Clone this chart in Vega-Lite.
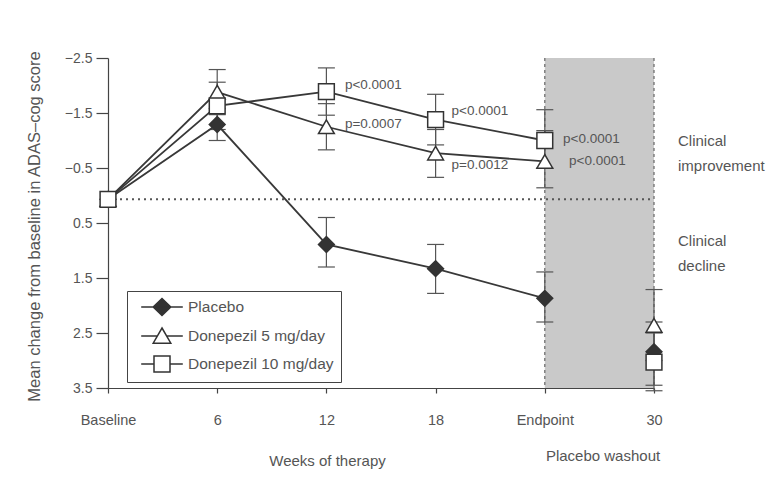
{
  "$schema": "https://vega.github.io/schema/vega-lite/v6.json",
  "width": 546,
  "height": 330,
  "autosize": {"type": "none"},
  "padding": {"left": 108, "top": 58, "right": 122, "bottom": 99},
  "background": "white",
  "config": {
    "view": {"stroke": null},
    "font": "Liberation Sans",
    "axis": {
      "domainColor": "#444",
      "domainWidth": 1.2,
      "tickColor": "#444",
      "tickWidth": 1.2,
      "labelColor": "#555",
      "titleColor": "#555",
      "titleFontWeight": "normal",
      "grid": false
    }
  },
  "datasets": {
    "means": [
      {"group": "Placebo", "week": 0, "mean": 0.07, "lo": null, "hi": null},
      {"group": "Placebo", "week": 6, "mean": -1.29, "lo": -1.58, "hi": -1.0},
      {"group": "Placebo", "week": 12, "mean": 0.89, "lo": 0.4, "hi": 1.3},
      {"group": "Placebo", "week": 18, "mean": 1.33, "lo": 0.89, "hi": 1.78},
      {"group": "Placebo", "week": 24, "mean": 1.87, "lo": 1.39, "hi": 2.3},
      {"group": "Placebo", "week": 30, "mean": 2.84, "lo": 2.3, "hi": 3.45},
      {"group": "Donepezil 5 mg/day", "week": 0, "mean": 0.07, "lo": null, "hi": null},
      {"group": "Donepezil 5 mg/day", "week": 6, "mean": -1.88, "lo": -2.29, "hi": -1.47},
      {"group": "Donepezil 5 mg/day", "week": 12, "mean": -1.25, "lo": -1.67, "hi": -0.83},
      {"group": "Donepezil 5 mg/day", "week": 18, "mean": -0.77, "lo": -1.2, "hi": -0.33},
      {"group": "Donepezil 5 mg/day", "week": 24, "mean": -0.62, "lo": -1.18, "hi": -0.14},
      {"group": "Donepezil 5 mg/day", "week": 30, "mean": 2.36, "lo": 1.71, "hi": 3.0},
      {"group": "Donepezil 10 mg/day", "week": 0, "mean": 0.07, "lo": null, "hi": null},
      {"group": "Donepezil 10 mg/day", "week": 6, "mean": -1.63, "lo": -2.06, "hi": -1.2},
      {"group": "Donepezil 10 mg/day", "week": 12, "mean": -1.89, "lo": -2.32, "hi": -1.46},
      {"group": "Donepezil 10 mg/day", "week": 18, "mean": -1.38, "lo": -1.84, "hi": -0.92},
      {"group": "Donepezil 10 mg/day", "week": 24, "mean": -1.0, "lo": -1.56, "hi": -0.5},
      {"group": "Donepezil 10 mg/day", "week": 30, "mean": 3.03, "lo": 2.5, "hi": 3.55}
    ],
    "pvals": [
      {"lx": 13.02, "ly": -2.005, "label": "p<0.0001"},
      {"lx": 13.02, "ly": -1.305, "label": "p=0.0007"},
      {"lx": 18.88, "ly": -1.544, "label": "p<0.0001"},
      {"lx": 18.88, "ly": -0.551, "label": "p=0.0012"},
      {"lx": 25.0, "ly": -1.023, "label": "p<0.0001"},
      {"lx": 25.33, "ly": -0.623, "label": "p<0.0001"}
    ],
    "notes": [
      {"nx": 31.32, "ny": -0.982, "note": "Clinical\nimprovement"},
      {"nx": 31.32, "ny": 0.831, "note": "Clinical\ndecline"}
    ],
    "washout": [
      {"nx": 27.2, "ny": 4.73, "note": "Placebo washout"}
    ]
  },
  "layer": [
    {
      "data": {"values": [{}]},
      "mark": {"type": "rect", "fill": "#c9c9c9", "stroke": null},
      "encoding": {
        "x": {"datum": 24, "type": "quantitative"},
        "x2": {"datum": 30},
        "y": {"datum": -2.5, "type": "quantitative"},
        "y2": {"datum": 3.5}
      }
    },
    {
      "data": {"values": [{}]},
      "mark": {"type": "rule", "stroke": "#666", "strokeWidth": 1.2, "strokeDash": [3, 3]},
      "encoding": {
        "x": {"datum": 24, "type": "quantitative"},
        "y": {"datum": -2.5, "type": "quantitative"},
        "y2": {"datum": 3.5}
      }
    },
    {
      "data": {"values": [{}]},
      "mark": {"type": "rule", "stroke": "#666", "strokeWidth": 1.2, "strokeDash": [3, 3]},
      "encoding": {
        "x": {"datum": 30, "type": "quantitative"},
        "y": {"datum": -2.5, "type": "quantitative"},
        "y2": {"datum": 3.5}
      }
    },
    {
      "data": {"values": [{}]},
      "mark": {"type": "rule", "stroke": "#555", "strokeWidth": 2, "strokeDash": [2, 4]},
      "encoding": {
        "x": {"datum": 0, "type": "quantitative"},
        "x2": {"datum": 30},
        "y": {"datum": 0.07, "type": "quantitative"}
      }
    },
    {
      "data": {"name": "means"},
      "transform": [{"filter": "isValid(datum.lo)"}],
      "mark": {"type": "rule", "stroke": "#555", "strokeWidth": 1.2},
      "encoding": {
        "x": {"field": "week", "type": "quantitative"},
        "y": {"field": "lo", "type": "quantitative"},
        "y2": {"field": "hi"}
      }
    },
    {
      "data": {"name": "means"},
      "transform": [
        {"filter": "isValid(datum.lo)"},
        {"fold": ["lo", "hi"], "as": ["end", "val"]}
      ],
      "mark": {"type": "tick", "orient": "horizontal", "size": 17, "thickness": 1.2, "color": "#555", "opacity": 1},
      "encoding": {
        "x": {"field": "week", "type": "quantitative"},
        "y": {"field": "val", "type": "quantitative"}
      }
    },
    {
      "data": {"name": "means"},
      "transform": [{"filter": "datum.week <= 24"}],
      "mark": {"type": "line", "stroke": "#383838", "strokeWidth": 1.8},
      "encoding": {
        "x": {"field": "week", "type": "quantitative"},
        "y": {"field": "mean", "type": "quantitative"},
        "detail": {"field": "group", "type": "nominal"}
      }
    },
    {
      "data": {"name": "means"},
      "mark": {"type": "point", "filled": true, "opacity": 1, "stroke": "#333", "strokeWidth": 1.5, "size": 250},
      "encoding": {
        "x": {
          "field": "week",
          "type": "quantitative",
          "scale": {"domain": [0, 30], "nice": false, "zero": false},
          "axis": {
            "values": [0, 6, 12, 18, 24, 30],
            "labelExpr": "datum.value == 0 ? 'Baseline' : datum.value == 24 ? 'Endpoint' : datum.label",
            "tickSize": 5,
            "labelPadding": 20,
            "labelFontSize": 14.5,
            "labelFlush": false,
            "title": "Weeks of therapy",
            "titleFontSize": 15,
            "titleX": 219,
            "titleY": 65,
            "titleBaseline": "top",
            "titleAlign": "center"
          }
        },
        "y": {
          "field": "mean",
          "type": "quantitative",
          "scale": {"domain": [-2.5, 3.5], "reverse": true, "nice": false, "zero": false},
          "axis": {
            "values": [-2.5, -1.5, -0.5, 0.5, 1.5, 2.5, 3.5],
            "format": ".1f",
            "tickSize": 12,
            "labelPadding": 4,
            "labelFontSize": 14,
            "title": "Mean change from baseline in ADAS–cog score",
            "titleFontSize": 16.5,
            "titleX": -74,
            "titleY": 168,
            "titleAngle": -90,
            "titleBaseline": "middle",
            "titleAlign": "center"
          }
        },
        "shape": {
          "condition": [
            {"test": "datum.group === 'Placebo'", "value": "diamond"},
            {"test": "datum.group === 'Donepezil 5 mg/day'", "value": "triangle-up"}
          ],
          "value": "square"
        },
        "fill": {
          "condition": {"test": "datum.group === 'Placebo'", "value": "#333333"},
          "value": "#ffffff"
        }
      }
    },
    {
      "data": {"name": "means"},
      "transform": [{"filter": "false"}],
      "mark": {"type": "point", "filled": true, "opacity": 1, "strokeWidth": 1.5, "size": 256},
      "encoding": {
        "x": {"field": "week", "type": "quantitative"},
        "y": {"field": "mean", "type": "quantitative"},
        "shape": {
          "field": "group",
          "type": "nominal",
          "scale": {
            "domain": ["Placebo", "Donepezil 5 mg/day", "Donepezil 10 mg/day"],
            "range": [
              "M-2.6,0L2.6,0M0,-1.05L1.1,0L0,1.05L-1.1,0Z",
              "M-2.6,0L-0.55,0M0.55,0L2.6,0M0,-1L1.1,0.9L-1.1,0.9Z",
              "M-2.6,0L-1,0M1,0L2.6,0M-1,-1L1,-1L1,1L-1,1Z"
            ]
          },
          "legend": {
            "orient": "none",
            "legendX": 19,
            "legendY": 233,
            "title": null,
            "strokeColor": "#444",
            "padding": 7,
            "symbolSize": 256,
            "symbolStrokeWidth": 1.5,
            "symbolOffset": 19,
            "labelOffset": 17,
            "labelFontSize": 15.5,
            "labelColor": "#555",
            "rowPadding": 6
          }
        },
        "fill": {
          "field": "group",
          "type": "nominal",
          "scale": {
            "domain": ["Placebo", "Donepezil 5 mg/day", "Donepezil 10 mg/day"],
            "range": ["#333333", "#ffffff", "#ffffff"]
          },
          "legend": {
            "orient": "none",
            "legendX": 19,
            "legendY": 233,
            "title": null,
            "strokeColor": "#444",
            "padding": 7,
            "symbolSize": 256,
            "symbolStrokeWidth": 1.5,
            "symbolOffset": 19,
            "labelOffset": 17,
            "labelFontSize": 15.5,
            "labelColor": "#555",
            "rowPadding": 6
          }
        },
        "stroke": {
          "field": "group",
          "type": "nominal",
          "scale": {
            "domain": ["Placebo", "Donepezil 5 mg/day", "Donepezil 10 mg/day"],
            "range": ["#333333", "#333333", "#333333"]
          },
          "legend": {
            "orient": "none",
            "legendX": 19,
            "legendY": 233,
            "title": null,
            "strokeColor": "#444",
            "padding": 7,
            "symbolSize": 256,
            "symbolStrokeWidth": 1.5,
            "symbolOffset": 19,
            "labelOffset": 17,
            "labelFontSize": 15.5,
            "labelColor": "#555",
            "rowPadding": 6
          }
        }
      }
    },
    {
      "data": {"name": "pvals"},
      "mark": {"type": "text", "align": "left", "baseline": "middle", "fontSize": 13.5, "color": "#555"},
      "encoding": {
        "x": {"field": "lx", "type": "quantitative"},
        "y": {"field": "ly", "type": "quantitative"},
        "text": {"field": "label"}
      }
    },
    {
      "data": {"name": "notes"},
      "mark": {"type": "text", "align": "left", "baseline": "middle", "fontSize": 15, "color": "#555", "lineBreak": "\n", "lineHeight": 25},
      "encoding": {
        "x": {"field": "nx", "type": "quantitative"},
        "y": {"field": "ny", "type": "quantitative"},
        "text": {"field": "note"}
      }
    },
    {
      "data": {"name": "washout"},
      "mark": {"type": "text", "align": "center", "baseline": "middle", "fontSize": 15, "color": "#555"},
      "encoding": {
        "x": {"field": "nx", "type": "quantitative"},
        "y": {"field": "ny", "type": "quantitative"},
        "text": {"field": "note"}
      }
    }
  ]
}
